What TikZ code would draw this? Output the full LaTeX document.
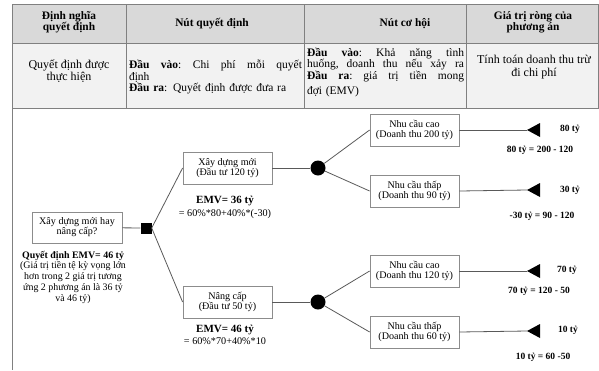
\documentclass[tikz,border=0pt]{standalone}
\usepackage{fontspec}
\setmainfont{Liberation Serif}
\definecolor{hdrfill}{HTML}{D9D9D9}
\definecolor{bodyfill}{HTML}{F2F2F2}
\definecolor{tline}{HTML}{808080}
\definecolor{boxgray}{HTML}{8C8C8C}
\definecolor{linegray}{HTML}{595959}
\begin{document}
\begin{tikzpicture}[x=1pt,y=-1pt,
  hdr/.style={font=\bfseries\fontsize{11.4}{11}\selectfont, align=center, inner sep=0pt},
  bodytxt/.style={font=\fontsize{12}{12.5}\selectfont, align=center, inner sep=0pt},
  justtxt/.style={font=\fontsize{11.5}{11.5}\selectfont, align=left, inner sep=0pt},
  box/.style={draw=boxgray, line width=0.8pt, fill=white, minimum width=89pt, minimum height=32pt, align=center, inner sep=1pt, font=\fontsize{10.1}{10}\selectfont},
  conn/.style={draw=linegray, line width=0.8pt},
  dsq/.style={fill=black, minimum size=11pt, inner sep=0pt},
  circ/.style={circle, fill=black, minimum size=15pt, inner sep=0pt},
  tri/.style={fill=black},
  emv/.style={font=\bfseries\fontsize{11}{11}\selectfont, inner sep=0pt},
  emvf/.style={font=\fontsize{10.2}{11}\selectfont, inner sep=0pt},
  resv/.style={font=\bfseries\fontsize{9.5}{10}\selectfont, inner sep=0pt},
  note/.style={font=\fontsize{9.9}{11}\selectfont, align=center, inner sep=0pt}
]
\useasboundingbox (0,0) rectangle (599,370);
% table
\fill[hdrfill] (12,4) rectangle (598,43);
\fill[bodyfill] (12,43) rectangle (598,108);
\draw[tline, line width=0.8pt] (12,4) rectangle (598,108);
\draw[tline, line width=0.8pt] (12,43) -- (598,43);
\draw[tline, line width=0.8pt] (126,4) -- (126,108);
\draw[tline, line width=0.8pt] (304,4) -- (304,108);
\draw[tline, line width=0.8pt] (466,4) -- (466,108);
\draw[tline, line width=1pt] (12,108) -- (12,370);
\node[hdr] (h1) at (69,22.5) {Định nghĩa\\quyết định};
\node[hdr] (h2) at (212,24) {Nút quyết định};
\node[hdr] (h3) at (405,24) {Nút cơ hội};
\node[hdr] (h4) at (533,22.5) {Giá trị ròng của\\phương án};
\node[bodytxt] (r1) at (69,71) {Quyết định được\\thực hiện};
\node[justtxt, text width=173pt] (r2) at (215.5,77) {\textbf{Đầu}\hfill\textbf{vào}:\hfill Chi\hfill phí\hfill mỗi\hfill quyết\\định\\\textbf{Đầu ra}: Quyết định được đưa ra};
\node[justtxt, text width=157pt] (r3) at (385.5,72.5) {\textbf{Đầu}\hfill\textbf{vào}:\hfill Khả\hfill năng\hfill tình\\huống,\hfill doanh\hfill thu\hfill nếu\hfill xảy\hfill ra\\\textbf{Đầu}\hfill\textbf{ra}:\hfill giá\hfill trị\hfill tiền\hfill mong\\[4pt]đợi (EMV)};
\node[bodytxt] (r4) at (534,67) {Tính toán doanh thu trừ\\đi chi phí};
% diagram
\node[box, minimum width=90pt, minimum height=31pt] (q) at (77,227.5) {Xây dựng mới hay\\nâng cấp?};
\node[dsq] (d) at (146,228) {};
\node[box] (b1) at (227.5,168) {Xây dựng mới\\(Đầu tư 120 tỷ)};
\node[box] (b2) at (227.5,302) {Nâng cấp\\(Đầu tư 50 tỷ)};
\node[circ] (c1) at (318,168) {};
\node[circ] (c2) at (318,302) {};
\node[box] (n1) at (414.5,130) {Nhu cầu cao\\(Doanh thu 200 tỷ)};
\node[box] (n2) at (414.5,191) {Nhu cầu thấp\\(Doanh thu 90 tỷ)};
\node[box] (n3) at (414.5,271) {Nhu cầu cao\\(Doanh thu 120 tỷ)};
\node[box] (n4) at (414.5,332) {Nhu cầu thấp\\(Doanh thu 60 tỷ)};
\coordinate (t1) at (527,130);
\coordinate (t2) at (527,190);
\coordinate (t3) at (527,271);
\coordinate (t4) at (527,331);
\foreach \t in {t1,t2,t3,t4} {\fill[tri] (\t) -- ++(13,-7) -- ++(0,14) -- cycle;}
\draw[conn] (q) -- (d);
\draw[conn] (d.east) -- (b1.west);
\draw[conn] (d.east) -- (b2.west);
\draw[conn] (b1) -- (c1);
\draw[conn] (b2) -- (c2);
\draw[conn] (c1) -- (n1.west);
\draw[conn] (c1) -- (n2.west);
\draw[conn] (c2) -- (n3.west);
\draw[conn] (c2) -- (n4.west);
\draw[conn] (n1) -- (t1);
\draw[conn] (n2.east) -- (t2);
\draw[conn] (n3) -- (t3);
\draw[conn] (n4.east) -- (t4);
% labels
\node[emv, font=\bfseries\fontsize{9.9}{11}\selectfont] (qe) at (73,256) {Quyết định EMV= 46 tỷ};
\node[note] (qn) at (73,282.5) {(Giá trị tiền tệ kỳ vọng lớn\\hơn trong 2 giá trị tương\\ứng 2 phương án là 36 tỷ\\và 46 tỷ)};
\node[emv] (e1) at (225,201) {EMV= 36 tỷ};
\node[emvf] (e1f) at (225,214) {= 60\%*80+40\%*(-30)};
\node[emv] (e2) at (225,330) {EMV= 46 tỷ};
\node[emvf] (e2f) at (225,341) {= 60\%*70+40\%*10};
\node[resv] (v1) at (570,129) {80 tỷ};
\node[resv] (f1) at (540,150) {80 tỷ = 200 - 120};
\node[resv] (v2) at (570,190) {30 tỷ};
\node[resv] (f2) at (542,216) {-30 tỷ = 90 - 120};
\node[resv] (v3) at (567,270) {70 tỷ};
\node[resv] (f3) at (539,291) {70 tỷ = 120 - 50};
\node[resv] (v4) at (568,330) {10 tỷ};
\node[resv] (f4) at (543,357) {10 tỷ = 60 -50};
\end{tikzpicture}
\end{document}
